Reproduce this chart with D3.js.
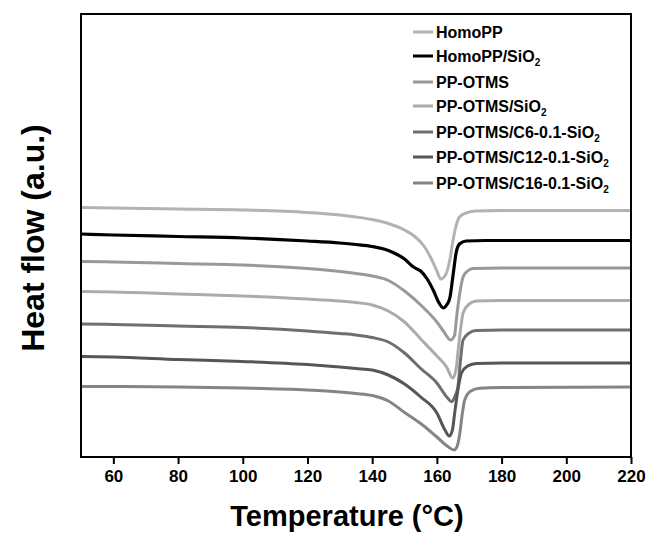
<!DOCTYPE html>
<html>
<head>
<meta charset="utf-8">
<script src="https://cdn.jsdelivr.net/npm/d3@7"></script>
<style>
  body { margin: 0; background: #fff; }
  svg { font-family: Arial, "Liberation Sans", sans-serif; font-weight: bold; }
</style>
</head>
<body>
<svg id="chart" width="646" height="533"></svg>
<script>
// =========================
// DATA (temperature °C, heat flow a.u.)
// =========================

const seriesNames = [
  'HomoPP',
  'HomoPP/SiO2',
  'PP-OTMS',
  'PP-OTMS/SiO2',
  'PP-OTMS/C6-0.1-SiO2',
  'PP-OTMS/C12-0.1-SiO2',
  'PP-OTMS/C16-0.1-SiO2'
];

const homoPP = [
  [50, 249.5], [60, 249], [80, 248], [100, 247], [120, 244.5], [130, 242], [135, 240],
  [140, 237.5], [145, 233.5], [150, 227], [153, 221], [156, 211], [158, 200], [160, 186],
  [161.2, 178], [162.5, 181], [164, 197], [165, 217], [166, 232], [167, 240], [169, 244],
  [172, 246], [180, 246.5], [200, 246.5], [220, 246.5]
];

const homoPPSiO2 = [
  [50, 223], [60, 222], [80, 220.5], [100, 219], [120, 216], [130, 214], [135, 212.5],
  [140, 210.5], [145, 206.5], [148, 202], [150, 198], [152, 192], [153, 189.5], [155, 186],
  [157, 178], [159, 166], [160.5, 155], [162, 149], [163, 152], [164, 159], [165, 182],
  [166, 205], [167, 213], [169, 216], [175, 216.5], [220, 216.5]
];

const ppOTMS = [
  [50, 195.5], [60, 195], [80, 193.5], [100, 192], [120, 188.5], [130, 185.5], [135, 183.5],
  [140, 181], [145, 176.5], [150, 166], [155, 152], [160, 135], [162, 126], [164.3, 117],
  [165.5, 122], [166, 137], [167, 162], [168.1, 180], [169.5, 186], [171.2, 188.5],
  [180, 189], [220, 189]
];

const ppOTMSSiO2 = [
  [50, 165.5], [60, 165], [80, 163], [100, 161], [120, 158], [130, 156], [135, 154.5],
  [140, 152], [145, 146], [150, 135], [155, 118], [160, 101], [163, 90], [164.9, 79],
  [166, 89], [166.5, 104], [167.3, 127], [168.1, 144], [170, 153], [172.2, 156],
  [180, 156.5], [220, 156.5]
];

const ppC6 = [
  [50, 133], [60, 132.5], [80, 131], [100, 129.5], [120, 126], [130, 123.5], [135, 122],
  [140, 119.5], [145, 115], [150, 104], [155, 88.5], [160, 74], [163, 60.3], [164.6, 55.3],
  [165.6, 61], [166.5, 70.3], [167.3, 97], [168.1, 117], [170, 124], [172.2, 126.5],
  [180, 127], [220, 127]
];

const ppC12 = [
  [50, 100.5], [60, 100], [80, 97.5], [100, 95.5], [120, 92.5], [130, 90], [135, 88.5],
  [140, 87], [145, 82], [150, 73], [155, 60], [160, 44], [162.5, 27], [163.8, 21],
  [164.8, 27], [165.5, 44], [166.5, 67], [167.6, 84], [169.5, 91], [172.2, 93.5],
  [180, 94], [220, 94]
];

const ppC16 = [
  [50, 70.5], [60, 70.5], [80, 70], [100, 69], [120, 67], [130, 65], [135, 63.5],
  [140, 61.5], [145, 56], [150, 44.5], [155, 33.5], [160, 20], [163.5, 10.3], [165.3, 7],
  [166.3, 11], [167.1, 24], [167.8, 42], [168.6, 57], [170.5, 66], [173.2, 68.7],
  [180, 69.5], [220, 70]
];

const seriesData = [homoPP, homoPPSiO2, ppOTMS, ppOTMSSiO2, ppC6, ppC12, ppC16];
const seriesColors = ['#b3b3b3', '#000000', '#999999', '#ababab', '#6e6e6e', '#565656', '#858585'];

const xTicks = [60, 80, 100, 120, 140, 160, 180, 200, 220];

// =========================
// CHART
// =========================

const svg = d3.select('#chart');

const margin = { top: 14, right: 15, bottom: 76, left: 81 };
const width = 646;
const height = 533;
const chartWidth = width - margin.left - margin.right;
const chartHeight = height - margin.top - margin.bottom;

const chart = svg.append('g')
  .attr('transform', `translate(${margin.left}, ${margin.top})`);

const x = d3.scaleLinear()
  .domain([50, 220])
  .range([0, chartWidth]);

const y = d3.scaleLinear()
  .domain([0, 443])
  .range([chartHeight, 0]);

const line = d3.line()
  .x(d => x(d[0]))
  .y(d => y(d[1]))
  .curve(d3.curveMonotoneX);

seriesData.forEach((data, i) => {
  chart.append('path')
    .datum(data)
    .attr('d', line)
    .attr('fill', 'none')
    .attr('stroke', seriesColors[i])
    .attr('stroke-width', i === 1 ? 3.2 : 3)
    .attr('stroke-linejoin', 'round');
});

// frame
chart.append('rect')
  .attr('x', 0)
  .attr('y', 0)
  .attr('width', chartWidth)
  .attr('height', chartHeight)
  .attr('fill', 'none')
  .attr('stroke', '#000')
  .attr('stroke-width', 2);

const xAxis = chart.append('g')
  .attr('transform', `translate(0, ${chartHeight})`)
  .call(d3.axisBottom(x).tickValues(xTicks).tickSize(7).tickPadding(6).tickSizeOuter(0));

xAxis.select('.domain').remove();
xAxis.selectAll('line').attr('stroke-width', 2);
xAxis.selectAll('text')
  .style('font-size', '17px')
  .style('font-weight', 'bold')
  .attr('fill', '#000');

// axis titles
svg.append('text')
  .attr('x', 347)
  .attr('y', 526)
  .attr('text-anchor', 'middle')
  .style('font-size', '29px')
  .text('Temperature (°C)');

svg.append('text')
  .attr('transform', 'rotate(-90)')
  .attr('x', -238)
  .attr('y', 44)
  .attr('text-anchor', 'middle')
  .style('font-size', '32px')
  .text('Heat flow (a.u.)');

// LEGEND

const legendRows = [32, 56, 82, 106, 132, 157, 183];

const legend = svg.append('g');

seriesNames.forEach((name, i) => {
  legend.append('line')
    .attr('x1', 413)
    .attr('x2', 433)
    .attr('y1', legendRows[i])
    .attr('y2', legendRows[i])
    .attr('stroke', seriesColors[i])
    .attr('stroke-width', 3);

  const label = legend.append('text')
    .attr('x', 436)
    .attr('y', legendRows[i] + 6)
    .style('font-size', '16px');

  if (name.endsWith('SiO2')) {
    label.append('tspan').text(name.slice(0, -1));
    label.append('tspan')
      .attr('dy', 4)
      .style('font-size', '10px')
      .text('2');
  } else {
    label.text(name);
  }
});
</script>
</body>
</html>
